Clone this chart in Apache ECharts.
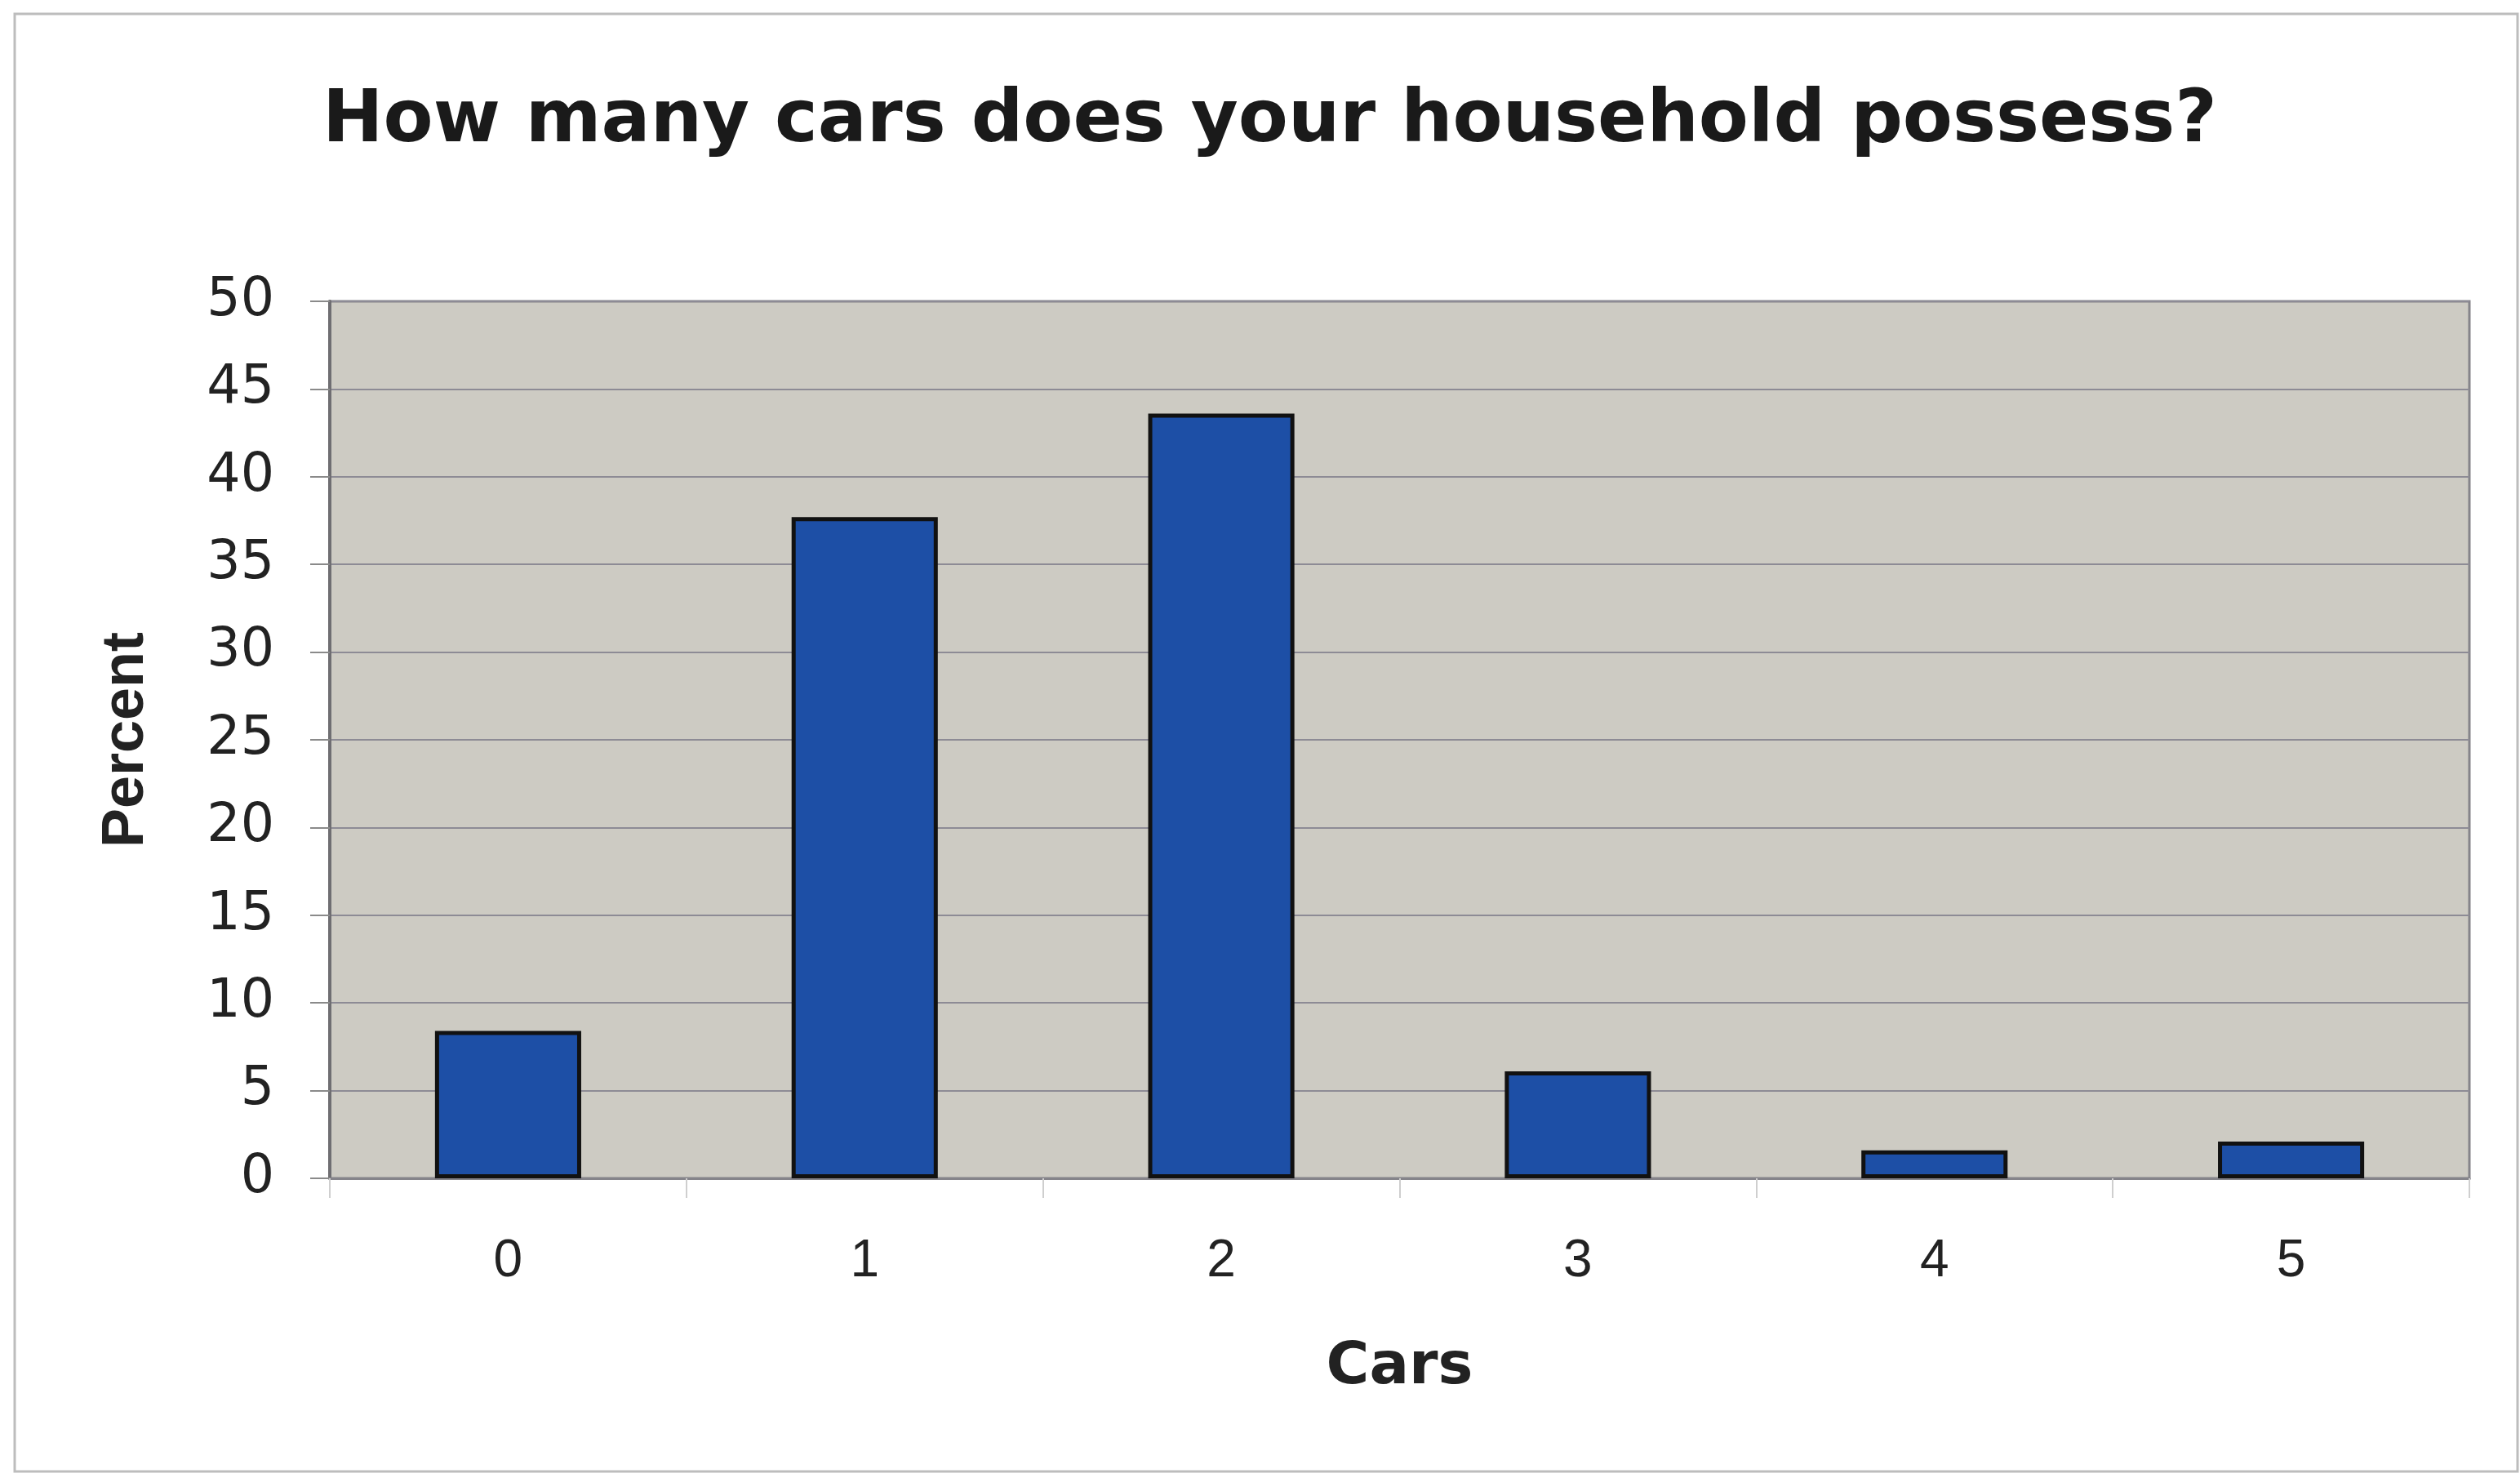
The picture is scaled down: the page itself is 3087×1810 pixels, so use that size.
<!DOCTYPE html>
<html>
<head>
<meta charset="utf-8">
<title>How many cars does your household possess?</title>
<script src="https://cdn.jsdelivr.net/npm/echarts@6/dist/echarts.min.js"></script>
<style>
	html, body { margin: 0; padding: 0; background: #fff; }
	#main { width: 3087px; height: 1810px; }
</style>
</head>
<body>
<div id="main"></div>
<script>
// data
var cars = ['0', '1', '2', '3', '4', '5'];
var percent = [8.4, 37.7, 43.6, 6.1, 1.6, 2.1];
var yMin = 0, yMax = 50, yStep = 5;

var chart = echarts.init(document.getElementById('main'));

chart.setOption({
	backgroundColor: '#ffffff',
	animation: false,
	// thin frame round the whole chart
	graphic: [{
		type: 'rect',
		shape: { x: 18, y: 17, width: 3066, height: 1785 },
		style: { fill: 'none', stroke: '#bdbdbd', lineWidth: 3 }
	}],
	title: {
		text: 'How many cars does your household possess?',
		left: 390,
		top: 100,
		textStyle: {
			fontFamily: 'DejaVu Sans',
			fontWeight: 'bold',
			fontSize: 89,
			color: '#1a1a1a'
		}
	},
	grid: {
		left: 404,
		right: 62,
		top: 369,
		bottom: 367,
		show: true,
		backgroundColor: '#cdcbc3',
		borderColor: '#85848a',
		borderWidth: 3
	},
	xAxis: {
		type: 'category',
		data: cars,
		boundaryGap: true,
		name: 'Cars',
		nameLocation: 'middle',
		nameGap: 196,
		nameTextStyle: {
			fontFamily: 'DejaVu Sans',
			fontWeight: 'bold',
			fontSize: 72,
			color: '#222'
		},
		axisLine: { lineStyle: { color: '#85848a', width: 3 } },
		axisTick: { show: true, length: 24, lineStyle: { color: '#cfcfcf', width: 2 } },
		axisLabel: {
			margin: 70,
			fontFamily: 'Liberation Sans',
			fontSize: 64,
			color: '#222'
		}
	},
	yAxis: {
		type: 'value',
		min: yMin,
		max: yMax,
		interval: yStep,
		name: 'Percent',
		nameLocation: 'middle',
		nameGap: 213,
		nameTextStyle: {
			fontFamily: 'Liberation Sans',
			fontWeight: 'bold',
			fontSize: 72,
			color: '#222'
		},
		axisLine: { show: true, lineStyle: { color: '#6f6e72', width: 4 } },
		axisTick: { show: true, length: 24, lineStyle: { color: '#8a8a8a', width: 2 } },
		axisLabel: {
			margin: 68,
			fontFamily: 'DejaVu Sans',
			fontSize: 65,
			color: '#222'
		},
		splitLine: { show: true, lineStyle: { color: '#8d8b95', width: 2 } }
	},
	series: [{
		name: 'Percent',
		type: 'bar',
		data: percent,
		barWidth: '41%',
		itemStyle: {
			color: '#1d4fa6',
			borderColor: '#111111',
			borderWidth: 5
		}
	}]
});
</script>
</body>
</html>
